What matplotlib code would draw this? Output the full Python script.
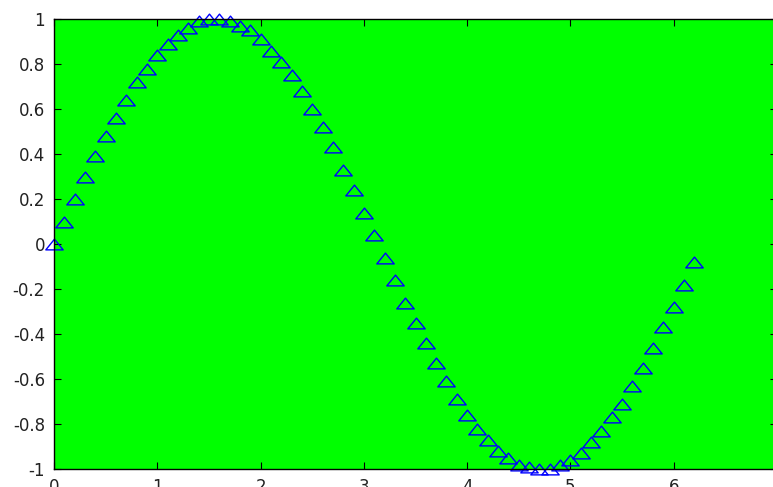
import numpy as np
import matplotlib.pyplot as plt
from matplotlib.path import Path

plt.rcParams['font.family'] = ['DejaVu Sans']

x = [0.0, 0.1, 0.2, 0.3, 0.4, 0.5, 0.6, 0.7, 0.8, 0.9,
     1.0, 1.1, 1.2, 1.3, 1.4, 1.5, 1.6, 1.7, 1.8, 1.9,
     2.0, 2.1, 2.2, 2.3, 2.4, 2.5, 2.6, 2.7, 2.8, 2.9,
     3.0, 3.1, 3.2, 3.3, 3.4, 3.5, 3.6, 3.7, 3.8, 3.9,
     4.0, 4.1, 4.2, 4.3, 4.4, 4.5, 4.6, 4.7, 4.8, 4.9,
     5.0, 5.1, 5.2, 5.3, 5.4, 5.5, 5.6, 5.7, 5.8, 5.9,
     6.0, 6.1, 6.2]
y = [0.00, 0.10, 0.20, 0.30, 0.39, 0.48, 0.56, 0.64, 0.72, 0.78,
     0.84, 0.89, 0.93, 0.96, 0.99, 1.00, 1.00, 0.99, 0.97, 0.95,
     0.91, 0.86, 0.81, 0.75, 0.68, 0.60, 0.52, 0.43, 0.33, 0.24,
     0.14, 0.04, -0.06, -0.16, -0.26, -0.35, -0.44, -0.53, -0.61, -0.69,
     -0.76, -0.82, -0.87, -0.92, -0.95, -0.98, -0.99, -1.00, -1.00, -0.98,
     -0.96, -0.93, -0.88, -0.83, -0.77, -0.71, -0.63, -0.55, -0.46, -0.37,
     -0.28, -0.18, -0.08]
xticks = [0, 1, 2, 3, 4, 5, 6, 7]
yticks = [-1, -0.8, -0.6, -0.4, -0.2, 0, 0.2, 0.4, 0.6, 0.8, 1]
ylabels = ['-1', '-0.8', '-0.6', '-0.4', '-0.2', '0', '0.2', '0.4', '0.6', '0.8', '1']

# flattened triangle, like the stretched matlab marker
tri = Path([(-1, -0.62), (1, -0.62), (0, 0.62), (-1, -0.62)],
           [Path.MOVETO, Path.LINETO, Path.LINETO, Path.CLOSEPOLY])

fig = plt.figure(figsize=(7.73, 4.87), dpi=100)
ax = fig.add_axes([54 / 773, 1 - 469 / 487, 723 / 773, 450 / 487])
ax.set_facecolor('#00ff00')

ax.plot(x, y, linestyle='none', marker=tri, markersize=12.5,
        markerfacecolor='none', markeredgecolor='#0000ff',
        markeredgewidth=1.0, clip_on=False)

ax.set_xlim(0, 7)
ax.set_ylim(-1, 1)
ax.set_xticks(xticks)
ax.set_yticks(yticks)
ax.set_yticklabels(ylabels)
ax.tick_params(direction='in', length=5, width=0.8, top=True, right=True,
               labelsize=12, pad=6.5, colors='black', labelcolor='#222222')
for s in ax.spines.values():
    s.set_linewidth(1.0)
    s.set_color('black')

plt.savefig('out.png', dpi=100)
